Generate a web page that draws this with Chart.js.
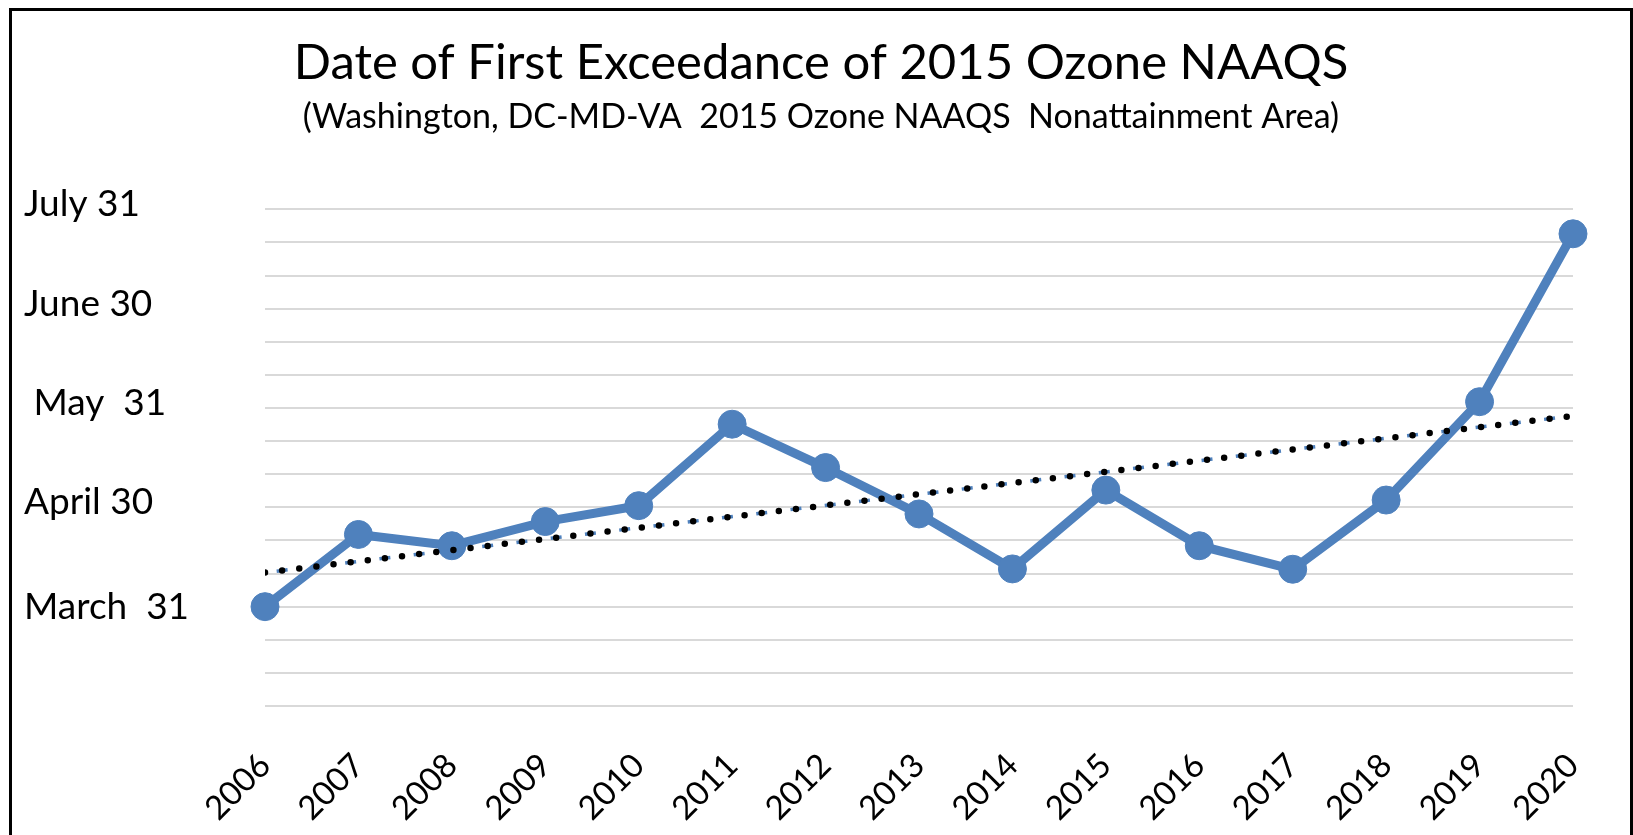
<!DOCTYPE html>
<html lang="en">
<head>
<meta charset="UTF-8">
<title>Date of First Exceedance of 2015 Ozone NAAQS</title>
<style>
    * { margin: 0; padding: 0; box-sizing: border-box; }
    html, body { width: 1633px; height: 835px; overflow: hidden; background: #fff; }
    /* chart area border, bottom edge runs off the page like the original */
    .frame { position: absolute; left: 9px; top: 8px; width: 1624px; height: 900px; border: 3px solid #000; }
    canvas { display: block; }
</style>
</head>
<body>
<div class="frame"><canvas id="chart" width="1618" height="824"></canvas></div>

<script src="https://cdn.jsdelivr.net/npm/chart.js"></script>
<script>
    const years = ['2006', '2007', '2008', '2009', '2010', '2011', '2012', '2013',
                   '2014', '2015', '2016', '2017', '2018', '2019', '2020'];

    // day of year of the first exceedance
    const firstDay = [90, 111.8, 108.4, 115.7, 120.5, 145.1, 132, 118,
                      101.4, 125.2, 108.4, 101.3, 122.2, 151.9, 202.6];

    // linear trendline, value at its two ends (2006 and 2020)
    const trendEnds = [100.3, 147.6];

    // y axis: only these gridlines get a date label
    const dayTicks = [90, 120, 150, 180, 210];
    const dayLabels = ['March  31', 'April 30', ' May  31', 'June 30', 'July 31'];

    const blue = '#4F81BD';
    const font = 'Lato';

    const trendData = years.map((y, i) => {
        if (i === 0) return trendEnds[0];
        if (i === years.length - 1) return trendEnds[1];
        return null;
    });

    new Chart(document.getElementById('chart'), {
        type: 'line',
        data: {
            labels: years,
            datasets: [
                {
                    // black round dots of the trendline
                    data: trendData,
                    spanGaps: true,
                    borderColor: '#000',
                    borderWidth: 6.5,
                    borderDash: [0, 17.25],
                    borderCapStyle: 'round',
                    pointRadius: 0,
                    clip: 0,
                    order: 0
                },
                {
                    // thin blue dashes under the dots
                    data: trendData,
                    spanGaps: true,
                    borderColor: blue,
                    borderWidth: 3.5,
                    borderDash: [11, 23.5],
                    borderDashOffset: 22.75,
                    pointRadius: 0,
                    clip: 0,
                    order: 1
                },
                {
                    data: firstDay,
                    borderColor: blue,
                    backgroundColor: blue,
                    borderWidth: 9,
                    tension: 0,
                    pointRadius: 14,
                    pointBorderWidth: 1,
                    pointBackgroundColor: blue,
                    pointBorderColor: blue,
                    clip: false,
                    order: 2
                }
            ]
        },
        options: {
            responsive: false,
            animation: false,
            devicePixelRatio: 1,
            layout: { padding: { left: 12, right: 12, top: 0, bottom: 0 } },
            plugins: {
                legend: { display: false },
                tooltip: { enabled: false },
                title: {
                    display: true,
                    text: 'Date of First Exceedance of 2015 Ozone NAAQS',
                    color: '#000',
                    font: { family: font, size: 49, weight: 'normal', lineHeight: 1.2 },
                    padding: { top: 22.5, bottom: 4 }
                },
                subtitle: {
                    display: true,
                    text: '(Washington, DC-MD-VA  2015 Ozone NAAQS  Nonattainment Area)',
                    color: '#000',
                    font: { family: font, size: 34, weight: 'normal', lineHeight: 1.2 },
                    padding: { top: 0, bottom: 72.2 }
                }
            },
            scales: {
                x: {
                    // tick marks are hidden, tickLength only pushes the labels down
                    grid: { display: false, drawTicks: true, tickLength: 11 },
                    border: { display: false },
                    ticks: {
                        autoSkip: false,
                        maxRotation: 45,
                        minRotation: 45,
                        padding: 29,
                        color: '#000',
                        font: { family: font, size: 33 }
                    },
                    afterFit: (scale) => { scale.height = 129; }
                },
                y: {
                    min: 60,
                    max: 210,
                    grid: { color: '#D9D9D9', lineWidth: 2, drawTicks: false },
                    border: { display: false },
                    ticks: {
                        stepSize: 10,
                        autoSkip: false,
                        crossAlign: 'far',
                        padding: 0,
                        color: '#000',
                        font: { family: font, size: 37, lineHeight: 0.27 },
                        callback: (v) => {
                            const k = dayTicks.indexOf(v);
                            if (k < 0) return '';
                            // empty 2nd line lifts the text box slightly, like the original
                            return k === 0 ? dayLabels[k] : [dayLabels[k], ''];
                        }
                    },
                    afterFit: (scale) => { scale.width = 241; }
                },
                // empty right-hand axis, keeps the plot off the right border
                right: {
                    position: 'right',
                    grid: { display: false },
                    border: { display: false },
                    ticks: { display: false },
                    afterFit: (scale) => { scale.width = 45; }
                }
            }
        }
    });
</script>
</body>
</html>
